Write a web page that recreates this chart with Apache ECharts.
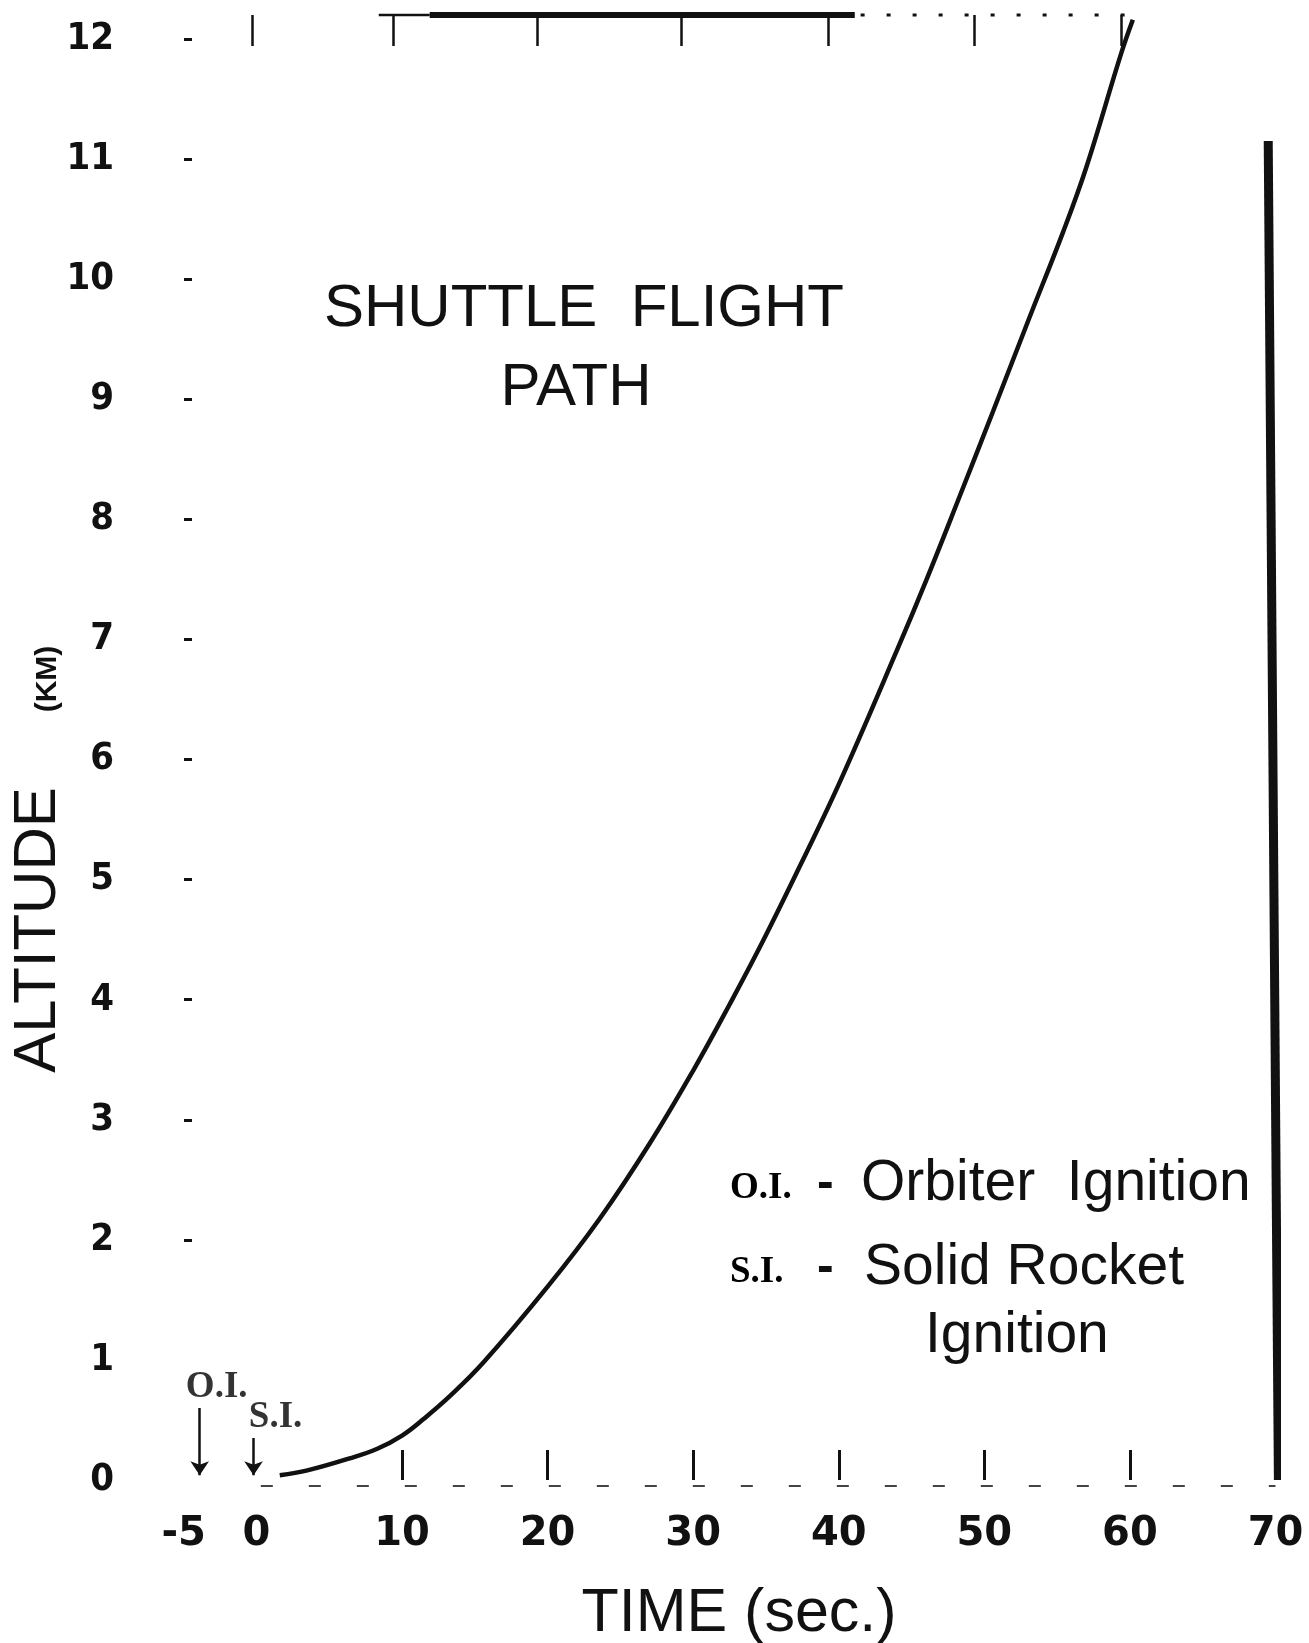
<!DOCTYPE html>
<html>
<head>
<meta charset="utf-8">
<title>Shuttle Flight Path</title>
<script src="https://cdn.jsdelivr.net/npm/echarts@6/dist/echarts.min.js"></script>
<style>
  html, body { margin: 0; padding: 0; background: #fff; }
  #main { width: 1309px; height: 1643px; }
</style>
</head>
<body>
<div id="main"></div>
<script>
// curve: time (s) -> altitude (km)
const timeSec = [1.6, 3.5, 6.4, 8.3, 10.0, 11.5, 13.3, 15.6, 20.0, 23.6, 27.0, 30.0, 32.5, 34.8, 37.6, 40.1, 44.0, 46.0, 48.3, 50.6, 53.0, 55.4, 57.0, 59.4, 60.2]
const altitudeKm = [0.04, 0.08, 0.18, 0.26, 0.37, 0.51, 0.70, 0.98, 1.61, 2.18, 2.80, 3.41, 3.96, 4.49, 5.18, 5.82, 6.91, 7.49, 8.19, 8.90, 9.65, 10.39, 10.93, 11.88, 12.16]

// axis ticks / labels
const timeLabels = [-5, 0, 10, 20, 30, 40, 50, 60, 70]
const timeTicks = [10, 20, 30, 40, 50, 60]
const topTicks = [-0.3, 9.4, 19.3, 29.2, 39.3, 49.3, 59.4]
const altLabels = [0, 1, 2, 3, 4, 5, 6, 7, 8, 9, 10, 11, 12]
const altDashes = [2, 3, 4, 5, 6, 7, 8, 9, 10, 11, 12]

// ignition events
const eventNames = ['O.I.', 'S.I.']
const eventTimes = [-3.9, -0.2]

const INK = '#111'
const SANS = '"Liberation Sans", Arial, sans-serif'
const TYPE = '"Liberation Serif", serif'
const TOP = 12.2

const chart = echarts.init(document.getElementById('main'))

function frameLine(points, style) {
  return {
    type: 'line', data: points, symbol: 'none', silent: true, clip: false,
    lineStyle: Object.assign({ color: INK }, style), z: 1
  }
}

function text(x, y, str, style, extra) {
  return Object.assign({
    type: 'text', x: x, y: y,
    style: Object.assign({ text: str, fill: INK, align: 'center', verticalAlign: 'middle', font: '56px ' + SANS }, style)
  }, extra || {})
}

chart.setOption({
  backgroundColor: '#fff',
  animation: false,
  grid: { left: 140, right: 33.5, top: 15, bottom: 163, outerBoundsMode: 'none' },
  xAxis: [
    {
      type: 'value', min: -8, max: 70, position: 'bottom',
      splitLine: { show: false },
      axisLine: { show: false, onZero: false },
      axisTick: { show: true, inside: true, length: 30, customValues: timeTicks, lineStyle: { color: INK, width: 3 } },
      axisLabel: { customValues: timeLabels, margin: 35, fontSize: 40, fontWeight: 'bold', fontFamily: '"DejaVu Sans", sans-serif', color: INK }
    },
    {
      type: 'value', min: -8, max: 70, position: 'top',
      splitLine: { show: false },
      axisLine: { show: false, onZero: false },
      axisTick: { show: true, inside: true, length: 31, customValues: topTicks, lineStyle: { color: INK, width: 2.5 } },
      axisLabel: { show: false }
    }
  ],
  yAxis: {
    type: 'value', min: 0, max: TOP, offset: -44,
    splitLine: { show: false },
    axisLine: { show: false, onZero: false },
    axisTick: { show: true, inside: true, length: 8, customValues: altDashes, lineStyle: { color: INK, width: 3 } },
    axisLabel: {
      customValues: altLabels, margin: 70, fontSize: 38, fontWeight: 'bold', color: INK,
      fontFamily: '"Liberation Sans Narrow", "DejaVu Sans Condensed", "Liberation Sans", sans-serif'
    }
  },
  series: [
    {
      name: 'Altitude', type: 'line', smooth: 0.4, showSymbol: false, z: 3,
      data: timeSec.map((t, i) => [t, altitudeKm[i]]),
      lineStyle: { color: INK, width: 4.5 }
    },
    // scraps of the frame
    frameLine([[8.4, TOP], [11.9, TOP]], { width: 2.5 }),
    frameLine([[11.9, TOP], [41.1, TOP]], { width: 6 }),
    frameLine([[41.5, TOP], [60, TOP]], { width: 3, type: [4, 22] }),
    frameLine([[69.5, 11.15], [70.2, 0]], { width: 9 }),
    frameLine([[0.3, -0.05], [70, -0.05]], { width: 2, color: '#444', type: [12, 36] }),
    {
      type: 'lines', coordinateSystem: 'cartesian2d', silent: true, z: 4,
      symbol: ['none', 'arrow'], symbolSize: [0, 14],
      lineStyle: { color: INK, width: 2.5, opacity: 1 },
      data: [
        { coords: [[eventTimes[0], 0.6], [eventTimes[0], 0.04]] },
        { coords: [[eventTimes[1], 0.35], [eventTimes[1], 0.04]] }
      ]
    },
    {
      type: 'scatter', symbolSize: 0, silent: true, z: 4,
      data: [
        { name: eventNames[0], value: [eventTimes[0], 0.6], label: { offset: [17, 3] } },
        { name: eventNames[1], value: [eventTimes[1], 0.35], label: { offset: [22, 3] } }
      ],
      label: { show: true, position: 'top', formatter: '{b}', fontFamily: TYPE, fontWeight: 'bold', fontSize: 37, color: '#000' }
    }
  ],
  graphic: [
    text(584, 309, 'SHUTTLE  FLIGHT', { font: '60px ' + SANS }),
    text(576, 388, 'PATH', { font: '60px ' + SANS }),
    text(739, 1614, 'TIME (sec.)', { font: '61px ' + SANS }),
    text(38, 930, 'ALTITUDE', { font: '60px ' + SANS }, { rotation: Math.PI / 2 }),
    text(48, 679, '(KM)', { font: 'bold 30px "Liberation Sans Narrow", ' + SANS }, { rotation: Math.PI / 2 }),
    // key
    text(730, 1188, 'O.I.', { font: 'bold 37px ' + TYPE, align: 'left', fill: '#000' }),
    text(817, 1184, '-', { font: 'bold 50px ' + SANS, align: 'left' }),
    text(861, 1184, 'Orbiter  Ignition', { font: '57px ' + SANS, align: 'left' }),
    text(730, 1272, 'S.I.', { font: 'bold 37px ' + TYPE, align: 'left', fill: '#000' }),
    text(817, 1268, '-', { font: 'bold 50px ' + SANS, align: 'left' }),
    text(864, 1268, 'Solid Rocket', { font: '57px ' + SANS, align: 'left' }),
    text(925, 1336, 'Ignition', { font: '57px ' + SANS, align: 'left' })
  ]
})
</script>
</body>
</html>
